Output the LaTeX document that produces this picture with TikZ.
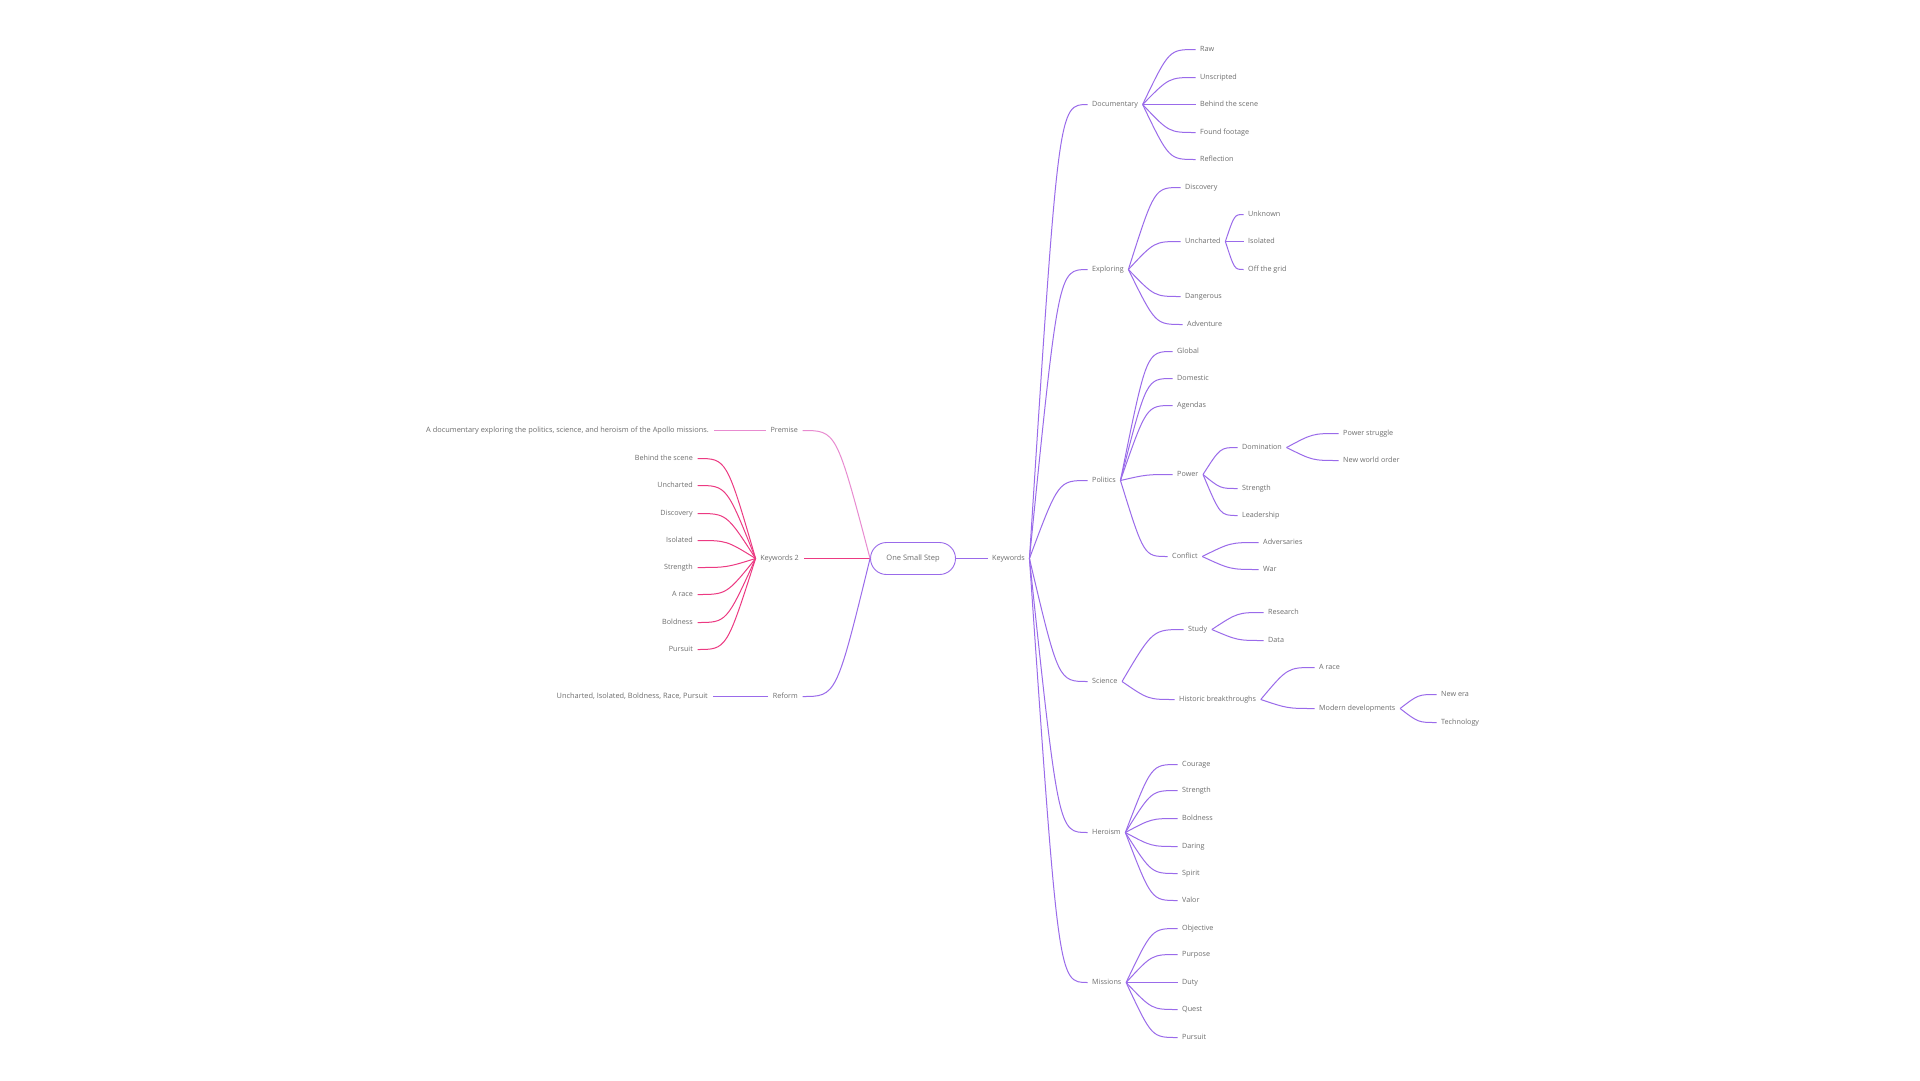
\documentclass[tikz,border=0pt]{standalone}
\usepackage{fontspec}
\setmainfont{Open Sans}
\usetikzlibrary{calc, positioning}
\definecolor{mmviolet}{HTML}{9A6BEA}
\definecolor{mmpink}{HTML}{EC3A82}
\definecolor{mmorchid}{HTML}{E88BD0}
\definecolor{mmtext}{HTML}{6E6E6E}

\tikzset{
  limb/.style={to path={let \p1=(\tikztostart), \p2=(\tikztotarget) in
      .. controls ({0.5*\x1+0.5*\x2},\y2) .. (\tikztotarget) \tikztonodes}},
}

\begin{document}
\begin{tikzpicture}[
  x=1pt, y=-1pt,
  word/.style={font=\fontsize{7.2}{8}\selectfont, text=mmtext, inner xsep=4.5pt, inner ysep=1pt, text height=5.2pt, text depth=1.6pt},
  rword/.style={word, anchor=west},
  lword/.style={word, anchor=east},
  longword/.style={lword, font=\fontsize{7.4}{8}\selectfont},
  rootbox/.style={draw=mmviolet, line width=0.9pt, rounded corners=16pt, minimum width=85pt, minimum height=32pt, font=\fontsize{7.5}{9}\selectfont, text=mmtext},
  vline/.style={draw=mmviolet, line width=1pt, limb},
  pline/.style={draw=mmpink, line width=1pt, limb},
  oline/.style={draw=mmorchid, line width=1pt, limb},
]
\useasboundingbox[fill=white] (0,0) rectangle (1920,1080);
\begin{scope}[yshift=-1.5pt]
\node[rootbox] (root) at (913,557) {One Small Step};

\node[rword] (kw) at (987.5,557) {Keywords};
\node[lword] (kwtwo) at (803.5,557) {Keywords 2};
\node[lword] (prem) at (802.5,429) {Premise};
\node[longword] (premtxt) at (713.5,429) {A documentary exploring the politics, science, and heroism of the Apollo missions.};
\node[lword] (reform) at (802.5,695) {Reform};
\node[longword] (reformtxt) at (712.5,695) {Uncharted, Isolated, Boldness, Race, Pursuit};

\node[lword] (ktbts) at (697.5,457) {Behind the scene};
\node[lword] (ktunch) at (697.5,484) {Uncharted};
\node[lword] (ktdisc) at (697.5,512) {Discovery};
\node[lword] (ktisol) at (697.5,539) {Isolated};
\node[lword] (ktstr) at (697.5,566) {Strength};
\node[lword] (ktrace) at (697.5,593) {A race};
\node[lword] (ktbold) at (697.5,621) {Boldness};
\node[lword] (ktpurs) at (697.5,648) {Pursuit};

\node[rword] (doc) at (1087.5,103) {Documentary};
\node[rword] (expl) at (1087.5,268) {Exploring};
\node[rword] (pol) at (1087.5,479) {Politics};
\node[rword] (sci) at (1087.5,680) {Science};
\node[rword] (hero) at (1087.5,831) {Heroism};
\node[rword] (miss) at (1087.5,981) {Missions};

\node[rword] (raw) at (1195.5,48) {Raw};
\node[rword] (unscr) at (1195.5,76) {Unscripted};
\node[rword] (bts) at (1195.5,103) {Behind the scene};
\node[rword] (found) at (1195.5,131) {Found footage};
\node[rword] (refl) at (1195.5,158) {Reflection};

\node[rword] (disc) at (1180.5,186) {Discovery};
\node[rword] (unch) at (1180.5,240) {Uncharted};
\node[rword] (dang) at (1180.5,295) {Dangerous};
\node[rword] (adv) at (1182.5,323) {Adventure};
\node[rword] (unkn) at (1243.5,213) {Unknown};
\node[rword] (isol) at (1243.5,240) {Isolated};
\node[rword] (offg) at (1243.5,268) {Off the grid};

\node[rword] (glob) at (1172.5,350) {Global};
\node[rword] (dome) at (1172.5,377) {Domestic};
\node[rword] (agen) at (1172.5,404) {Agendas};
\node[rword] (power) at (1172.5,473) {Power};
\node[rword] (confl) at (1167.5,555) {Conflict};
\node[rword] (domi) at (1237.5,446) {Domination};
\node[rword] (pwstr) at (1237.5,487) {Strength};
\node[rword] (lead) at (1237.5,514) {Leadership};
\node[rword] (pstrug) at (1338.5,432) {Power struggle};
\node[rword] (nwo) at (1338.5,459) {New world order};
\node[rword] (adver) at (1258.5,541) {Adversaries};
\node[rword] (war) at (1258.5,568) {War};

\node[rword] (study) at (1183.5,628) {Study};
\node[rword] (hist) at (1174.5,698) {Historic breakthroughs};
\node[rword] (resr) at (1263.5,611) {Research};
\node[rword] (data) at (1263.5,639) {Data};
\node[rword] (arace) at (1314.5,666) {A race};
\node[rword] (modern) at (1314.5,707) {Modern developments};
\node[rword] (newera) at (1436.5,693) {New era};
\node[rword] (tech) at (1436.5,721) {Technology};

\node[rword] (cour) at (1177.5,763) {Courage};
\node[rword] (hstr) at (1177.5,789) {Strength};
\node[rword] (hbold) at (1177.5,817) {Boldness};
\node[rword] (dar) at (1177.5,845) {Daring};
\node[rword] (spir) at (1177.5,872) {Spirit};
\node[rword] (valor) at (1177.5,899) {Valor};

\node[rword] (obj) at (1177.5,927) {Objective};
\node[rword] (purp) at (1177.5,953) {Purpose};
\node[rword] (duty) at (1177.5,981) {Duty};
\node[rword] (quest) at (1177.5,1008) {Quest};
\node[rword] (mpurs) at (1177.5,1036) {Pursuit};

\draw[vline] (root.east) -- (kw.west);
\draw[pline] (root.west) -- (kwtwo.east);
\draw[oline] (root.west) to (prem.east);
\draw[oline] (prem.west) -- (premtxt.east);
\draw[vline] (root.west) to (reform.east);
\draw[vline] (reform.west) -- (reformtxt.east);

\foreach \c in {ktbts,ktunch,ktdisc,ktisol,ktstr,ktrace,ktbold,ktpurs}
  \draw[pline] (kwtwo.west) to (\c.east);

\foreach \c in {doc,expl,pol,sci,hero,miss}
  \draw[vline] (kw.east) to (\c.west);
\foreach \c in {raw,unscr,bts,found,refl}
  \draw[vline] (doc.east) to (\c.west);
\foreach \c in {disc,unch,dang,adv}
  \draw[vline] (expl.east) to (\c.west);
\foreach \c in {unkn,isol,offg}
  \draw[vline] (unch.east) to (\c.west);
\foreach \c in {glob,dome,agen,power,confl}
  \draw[vline] (pol.east) to (\c.west);
\foreach \c in {domi,pwstr,lead}
  \draw[vline] (power.east) to (\c.west);
\foreach \c in {pstrug,nwo}
  \draw[vline] (domi.east) to (\c.west);
\foreach \c in {adver,war}
  \draw[vline] (confl.east) to (\c.west);
\foreach \c in {study,hist}
  \draw[vline] (sci.east) to (\c.west);
\foreach \c in {resr,data}
  \draw[vline] (study.east) to (\c.west);
\foreach \c in {arace,modern}
  \draw[vline] (hist.east) to (\c.west);
\foreach \c in {newera,tech}
  \draw[vline] (modern.east) to (\c.west);
\foreach \c in {cour,hstr,hbold,dar,spir,valor}
  \draw[vline] (hero.east) to (\c.west);
\foreach \c in {obj,purp,duty,quest,mpurs}
  \draw[vline] (miss.east) to (\c.west);
\end{scope}
\end{tikzpicture}
\end{document}
